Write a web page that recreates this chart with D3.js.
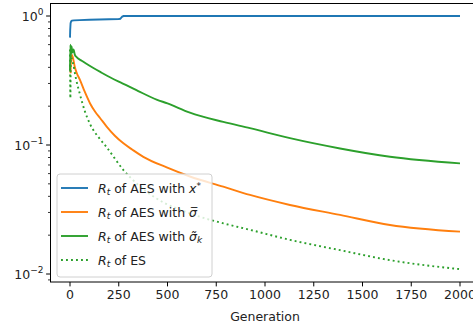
<!DOCTYPE html>
<html>
<head>
<meta charset="utf-8">
<script src="https://cdn.jsdelivr.net/npm/d3@7"></script>
<style>
  body { margin: 0; background: #fff; }
  text { font-family: "DejaVu Sans", sans-serif; fill: #222; }
</style>
</head>
<body>
<div id="chart"></div>
<script>
// values
var blueGen = [0, 1, 3, 6, 10, 20, 50, 100, 150, 200, 250, 258, 263, 268, 275, 500, 1000, 1500, 2000];
var blueVal = [0.68, 0.78, 0.88, 0.91, 0.92, 0.925, 0.93, 0.935, 0.94, 0.945, 0.948, 0.952, 0.97, 0.99, 1.0, 1.0, 1.0, 1.0, 1.0];

var orangeGen = [3, 5, 10, 17, 25, 35, 51, 75, 103, 130, 154, 188, 230, 274, 320, 376, 496, 615, 786, 923, 1128, 1385, 1641, 2000];
var orangeVal = [0.36, 0.45, 0.5, 0.46, 0.4, 0.36, 0.32, 0.26, 0.21, 0.18, 0.162, 0.139, 0.118, 0.103, 0.092, 0.081, 0.067, 0.057, 0.0475, 0.041, 0.0343, 0.0287, 0.024, 0.0213];

var greenGen = [0, 2, 5, 8, 12, 18, 25, 34, 60, 80, 120, 160, 205, 250, 291, 350, 444, 500, 615, 786, 923, 1128, 1385, 1641, 2000];
var greenVal = [0.38, 0.6, 0.5, 0.58, 0.52, 0.55, 0.5, 0.48, 0.45, 0.43, 0.395, 0.365, 0.335, 0.31, 0.29, 0.262, 0.225, 0.21, 0.178, 0.151, 0.135, 0.113, 0.094, 0.081, 0.072];

var esGen = [0, 2, 4, 8, 17, 30, 50, 75, 103, 150, 188, 274, 350, 444, 615, 786, 923, 1128, 1385, 1641, 2000];
var esVal = [0.55, 0.23, 0.5, 0.47, 0.42, 0.33, 0.25, 0.185, 0.145, 0.113, 0.096, 0.064, 0.049, 0.0385, 0.0295, 0.0247, 0.022, 0.0184, 0.0153, 0.0128, 0.0109];

var xTicks = [0, 250, 500, 750, 1000, 1250, 1500, 1750, 2000];
var yMajor = [1e-2, 1e-1, 1e0];
var yMajorExp = ["\u22122", "\u22121", "0"];

var width = 473, height = 327;
var plotL = 50.5, plotR = 479.5, plotT = 3.5, plotB = 282;

var x = d3.scaleLinear().domain([-100, 2100]).range([plotL, plotR]);
var y = d3.scaleLog().domain([Math.pow(10, -2.062), Math.pow(10, 0.097)]).range([plotB, plotT]);

var svg = d3.select('#chart').append('svg')
    .attr('width', width)
    .attr('height', height);

var clip = svg.append('clipPath').attr('id', 'plotclip');
clip.append('rect').attr('x', plotL).attr('y', plotT).attr('width', plotR - plotL).attr('height', plotB - plotT);

function toPoints(gens, vals) {
    return gens.map(function(g, i) { return [g, vals[i]]; });
}

var line = d3.line()
    .x(function(d) { return x(d[0]); })
    .y(function(d) { return y(d[1]); })
    .curve(d3.curveMonotoneX);

var lineStraight = d3.line()
    .x(function(d) { return x(d[0]); })
    .y(function(d) { return y(d[1]); });

var plot = svg.append('g').attr('clip-path', 'url(#plotclip)');

var series = [
    { pts: toPoints(blueGen, blueVal), color: '#1f77b4', dash: null, gen: lineStraight },
    { pts: toPoints(orangeGen, orangeVal), color: '#ff7f0e', dash: null, gen: line },
    { pts: toPoints(greenGen, greenVal), color: '#2ca02c', dash: null, gen: line },
    { pts: toPoints(esGen, esVal), color: '#2ca02c', dash: '1.9,3.1', gen: line }
];

series.forEach(function(s) {
    plot.append('path')
        .attr('d', s.gen(s.pts))
        .attr('fill', 'none')
        .attr('stroke', s.color)
        .attr('stroke-width', 1.9)
        .attr('stroke-dasharray', s.dash);
});

// axes frame
svg.append('rect')
    .attr('x', plotL).attr('y', plotT)
    .attr('width', plotR - plotL).attr('height', plotB - plotT)
    .attr('fill', 'none').attr('stroke', '#000').attr('stroke-width', 1);

// x axis
var xAxis = svg.append('g');
xTicks.forEach(function(t) {
    xAxis.append('line')
        .attr('x1', x(t)).attr('x2', x(t))
        .attr('y1', plotB).attr('y2', plotB + 4.4)
        .attr('stroke', '#000').attr('stroke-width', 1);
    xAxis.append('text')
        .attr('x', x(t)).attr('y', plotB + 17)
        .attr('text-anchor', 'middle')
        .attr('font-size', 12.5)
        .text(t);
});
svg.append('text')
    .attr('x', x(1000)).attr('y', 321)
    .attr('text-anchor', 'middle')
    .attr('font-size', 12.5)
    .text('Generation');

// y axis: major and minor ticks
var yAxis = svg.append('g');
yMajor.forEach(function(t, i) {
    yAxis.append('line')
        .attr('x1', plotL - 4.4).attr('x2', plotL)
        .attr('y1', y(t)).attr('y2', y(t))
        .attr('stroke', '#000').attr('stroke-width', 1);
    var lab = yAxis.append('text')
        .attr('x', plotL - 7).attr('y', y(t) + 4.5)
        .attr('text-anchor', 'end')
        .attr('font-size', 12.5);
    lab.append('tspan').text('10');
    lab.append('tspan').attr('dy', -6).attr('font-size', 9).text(yMajorExp[i]);
});
var yDom = y.domain();
[1e-3, 1e-2, 1e-1].forEach(function(dec) {
    for (var m = 2; m <= 9; m++) {
        var v = m * dec;
        if (v < yDom[0] || v > yDom[1]) continue;
        yAxis.append('line')
            .attr('x1', plotL - 2.5).attr('x2', plotL)
            .attr('y1', y(v)).attr('y2', y(v))
            .attr('stroke', '#000').attr('stroke-width', 0.8);
    }
});

// legend
var legend = svg.append('g');
legend.append('rect')
    .attr('x', 57).attr('y', 174)
    .attr('width', 155).attr('height', 103)
    .attr('rx', 3)
    .attr('fill', '#fff').attr('fill-opacity', 0.8)
    .attr('stroke', '#d0d0d0').attr('stroke-width', 1);

var legendRows = [
    { color: '#1f77b4', dash: null, kind: 'xstar' },
    { color: '#ff7f0e', dash: null, kind: 'sbar' },
    { color: '#2ca02c', dash: null, kind: 'stilde' },
    { color: '#2ca02c', dash: '1.9,3.1', kind: 'es' }
];

legendRows.forEach(function(r, i) {
    var cy = 188 + i * 24;
    legend.append('line')
        .attr('x1', 61).attr('x2', 88)
        .attr('y1', cy).attr('y2', cy)
        .attr('stroke', r.color).attr('stroke-width', 1.9)
        .attr('stroke-dasharray', r.dash);
    var t = legend.append('text')
        .attr('x', 98).attr('y', cy + 4.5)
        .attr('font-size', 12.5);
    t.append('tspan').attr('font-style', 'italic').text('R');
    t.append('tspan').attr('font-style', 'italic').attr('font-size', 9).attr('dy', 2.5).text('t');
    if (r.kind === 'es') {
        t.append('tspan').attr('dy', -2.5).text(' of ES');
        return;
    }
    t.append('tspan').attr('dy', -2.5).text(' of AES with ');
    if (r.kind === 'xstar') {
        t.append('tspan').attr('font-style', 'italic').text('x');
        t.append('tspan').attr('font-size', 9).attr('dy', -4).text('*');
    } else if (r.kind === 'sbar') {
        t.append('tspan').attr('font-style', 'italic').text('\u03c3\u0305');
    } else {
        t.append('tspan').attr('font-style', 'italic').text('\u03c3\u0303');
        t.append('tspan').attr('font-style', 'italic').attr('font-size', 9).attr('dy', 2.5).text('k');
    }
});
</script>
</body>
</html>
